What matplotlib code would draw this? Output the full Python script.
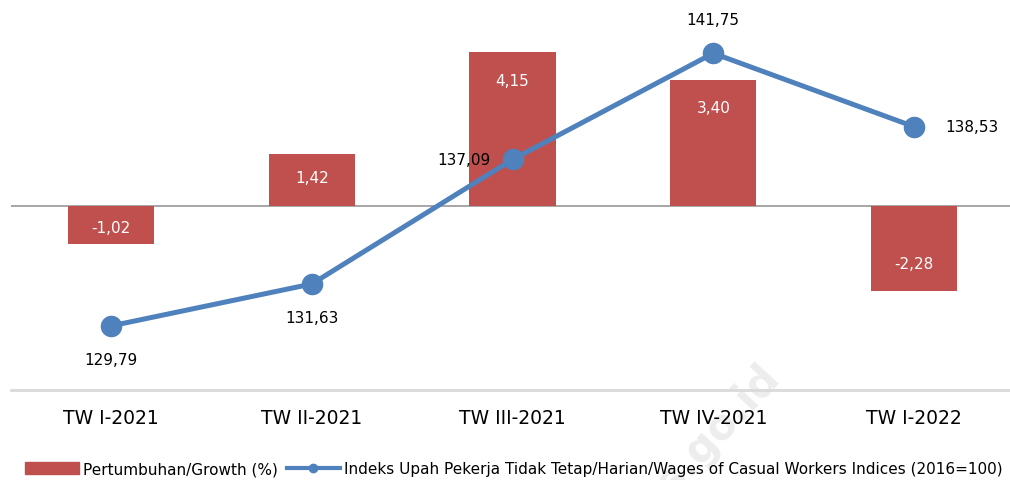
import matplotlib
matplotlib.use("Agg")
import matplotlib.pyplot as plt
from matplotlib.patches import Patch
from matplotlib.lines import Line2D

categories = ["TW I-2021", "TW II-2021", "TW III-2021", "TW IV-2021", "TW I-2022"]
growth = [-1.02, 1.42, 4.15, 3.40, -2.28]
index_vals = [129.79, 131.63, 137.09, 141.75, 138.53]
line_label_pos = ["below", "below", "left", "above", "right"]

red = "#C0504D"
blue = "#4F81BD"

def fmt(v):
    return f"{v:.2f}".replace(".", ",")

plt.rcParams["font.family"] = ["DejaVu Sans"]

fig = plt.figure(figsize=(10.10, 4.81), dpi=100)
ax = fig.add_axes([10.6 / 1010, 90 / 481, 1003.8 / 1010, 373 / 481])
ax.set_facecolor("none")
ax2 = ax.twinx()

x = list(range(len(categories)))

# watermark
fig.text(772 / 1010, 1 - 370 / 481, "bps.go.id", fontsize=30, fontweight="bold",
         color="#EDEDED", rotation=47, ha="right", va="center",
         rotation_mode="anchor", zorder=-1)

ax.axhline(0, color="#A6A6A6", lw=1.4, zorder=1)
bars = ax.bar(x, growth, width=0.43, color=red, zorder=2)

ax.set_xlim(-0.5, 4.5)
ax.set_ylim(-4.95, 5.1)
ax.set_yticks([])
for s in ["top", "left", "right"]:
    ax.spines[s].set_visible(False)
ax.spines["bottom"].set_color("#D9D9D9")
ax.spines["bottom"].set_linewidth(2)
ax.set_xticks(x, categories)
ax.tick_params(axis="x", length=0, pad=13, labelsize=13.5)

# bar labels inside end
for xi, v in zip(x, growth):
    h = abs(v) * 373 / (5.1 + 4.95) * 0.72
    off = min(20, h * 0.45)
    ax.annotate(fmt(v), (xi, v), xytext=(0, -off if v > 0 else off),
                textcoords="offset points", ha="center", va="center",
                color="white", fontsize=11, zorder=5)

ax2.plot(x, index_vals, color=blue, lw=3.6, marker="o", markersize=14.5, zorder=4)
ax2.set_ylim(126.98, 143.34)
ax2.set_yticks([])
for s in ax2.spines.values():
    s.set_visible(False)

offsets = {"below": (0, -24, "center"), "above": (0, 24, "center"),
           "left": (-35, 0, "center"), "right": (42, 0, "center")}
for xi, v, pos in zip(x, index_vals, line_label_pos):
    dx, dy, ha = offsets[pos]
    ax2.annotate(fmt(v), (xi, v), xytext=(dx, dy), textcoords="offset points",
                 ha=ha, va="center", fontsize=11, color="black", zorder=6)

handles = [Patch(facecolor=red, edgecolor=red),
           Line2D([0], [0], color=blue, lw=3, marker="o", markersize=6)]
labels = ["Pertumbuhan/Growth (%)",
          "Indeks Upah Pekerja Tidak Tetap/Harian/Wages of Casual Workers Indices (2016=100)"]
fig.legend(handles, labels, loc="center", bbox_to_anchor=(514 / 1010, 1 - 470 / 481),
           ncol=2, frameon=False, fontsize=11, handlelength=3.5, handleheight=0.85,
           handletextpad=0.25, columnspacing=0.6, borderpad=0, borderaxespad=0)

fig.savefig("out.png", dpi=100)
